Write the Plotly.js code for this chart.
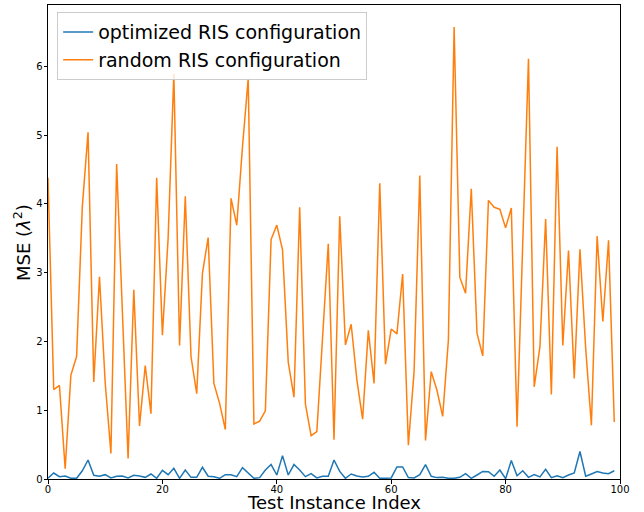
<!DOCTYPE html>
<html>
<head>
<meta charset="utf-8">
<script src="https://cdn.plot.ly/plotly-3.0.1.min.js"></script>
<style>html,body{margin:0;padding:0;background:#fff;}#chart{width:644px;height:512px;}</style>
</head>
<body>
<div id="chart"></div>
<script>
const testIndex = Array.from({length: 100}, (_, i) => i);

const optimizedMSE = [
  0.01, 0.087, 0.034, 0.044, 0.01, 0.01, 0.12, 0.276, 0.053, 0.04,
  0.063, 0.015, 0.04, 0.044, 0.015, 0.053, 0.044, 0.024, 0.073, 0.01,
  0.126, 0.063, 0.155, 0.01, 0.13, 0.024, 0.024, 0.17, 0.04, 0.034,
  0.01, 0.063, 0.063, 0.034, 0.165, 0.08, 0.01, 0.02, 0.13, 0.21,
  0.058, 0.34, 0.058, 0.21, 0.13, 0.034, 0.077, 0.015, 0.04, 0.04,
  0.276, 0.11, 0.01, 0.073, 0.044, 0.03, 0.04, 0.097, 0.01, 0.01,
  0.015, 0.175, 0.175, 0.02, 0.015, 0.063, 0.21, 0.04, 0.02, 0.024,
  0.01, 0.01, 0.024, 0.077, 0.01, 0.058, 0.11, 0.107, 0.04, 0.13,
  0.005, 0.27, 0.048, 0.12, 0.024, 0.063, 0.03, 0.14, 0.02, 0.048,
  0.02, 0.058, 0.087, 0.40, 0.04, 0.073, 0.107, 0.087, 0.077, 0.12
];

const randomMSE = [
  4.38, 1.30, 1.36, 0.15, 1.51, 1.78, 3.96, 5.04, 1.41, 2.94,
  1.40, 0.37, 4.58, 2.40, 0.30, 2.75, 0.77, 1.65, 0.95, 4.38,
  2.09, 3.50, 5.89, 1.94, 4.11, 1.78, 1.24, 2.99, 3.51, 1.39,
  1.10, 0.72, 4.08, 3.69, 4.83, 5.82, 0.80, 0.84, 0.99, 3.48,
  3.69, 3.33, 1.70, 1.19, 3.95, 1.09, 0.63, 0.69, 2.00, 3.42,
  0.57, 3.82, 1.95, 2.25, 1.44, 0.87, 2.16, 1.39, 4.30, 1.67,
  2.18, 2.11, 2.98, 0.49, 1.56, 4.41, 0.56, 1.56, 1.29, 0.91,
  2.02, 6.57, 2.93, 2.70, 4.22, 2.12, 1.79, 4.05, 3.95, 3.92,
  3.65, 3.94, 0.76, 3.60, 6.11, 1.34, 1.92, 3.78, 1.23, 4.83,
  1.94, 3.32, 1.46, 3.34, 1.90, 0.78, 3.53, 2.29, 3.47, 0.83
];

const seriesNames = ["optimized RIS configuration", "random RIS configuration"];
const xTitle = "Test Instance Index";
const yTitle = "MSE (<i>λ</i><sup>2</sup>)";
const xTicks = [0, 20, 40, 60, 80, 100];
const yTicks = [0, 1, 2, 3, 4, 5, 6];

const font = "DejaVu Sans, sans-serif";

const traces = [
  {x: testIndex, y: optimizedMSE, type: "scatter", mode: "lines", name: seriesNames[0],
   line: {color: "#1f77b4", width: 1.5}},
  {x: testIndex, y: randomMSE, type: "scatter", mode: "lines", name: seriesNames[1],
   line: {color: "#ff7f0e", width: 1.5}}
];

const axisCommon = {
  showline: true, mirror: true, linecolor: "#000", linewidth: 1,
  ticks: "outside", ticklen: 3.5, tickwidth: 1, tickcolor: "#000",
  showgrid: false, zeroline: false,
  tickfont: {family: font, size: 10, color: "#000"},
  automargin: false
};

const layout = {
  width: 644, height: 512,
  margin: {l: 48, r: 24, t: 5, b: 33},
  paper_bgcolor: "#fff", plot_bgcolor: "#fff",
  font: {family: font, color: "#000"},
  showlegend: true,
  legend: {
    x: 0.016, y: 0.985, xanchor: "left", yanchor: "top",
    bgcolor: "rgba(255,255,255,0.8)", bordercolor: "#cccccc", borderwidth: 1,
    font: {family: font, size: 19, color: "#000"},
    tracegroupgap: 0
  },
  xaxis: Object.assign({}, axisCommon, {
    range: [0, 100], tickvals: xTicks, ticktext: xTicks.map(String),
    ticklabelstandoff: -3
  }),
  yaxis: Object.assign({}, axisCommon, {
    range: [0, 6.89], tickvals: yTicks, ticktext: yTicks.map(String),
    ticklabelstandoff: -1
  }),
  annotations: [
    {text: xTitle, xref: "paper", yref: "paper", x: 0.5, y: -0.0506,
     xanchor: "center", yanchor: "middle", showarrow: false,
     font: {family: font, size: 18, color: "#000"}},
    {text: yTitle, xref: "paper", yref: "paper", x: -0.0455, y: 0.5,
     xanchor: "center", yanchor: "middle", textangle: -90, showarrow: false,
     font: {family: font, size: 18, color: "#000"}}
  ]
};

Plotly.newPlot("chart", traces, layout, {displayModeBar: false, staticPlot: true});
</script>
</body>
</html>
